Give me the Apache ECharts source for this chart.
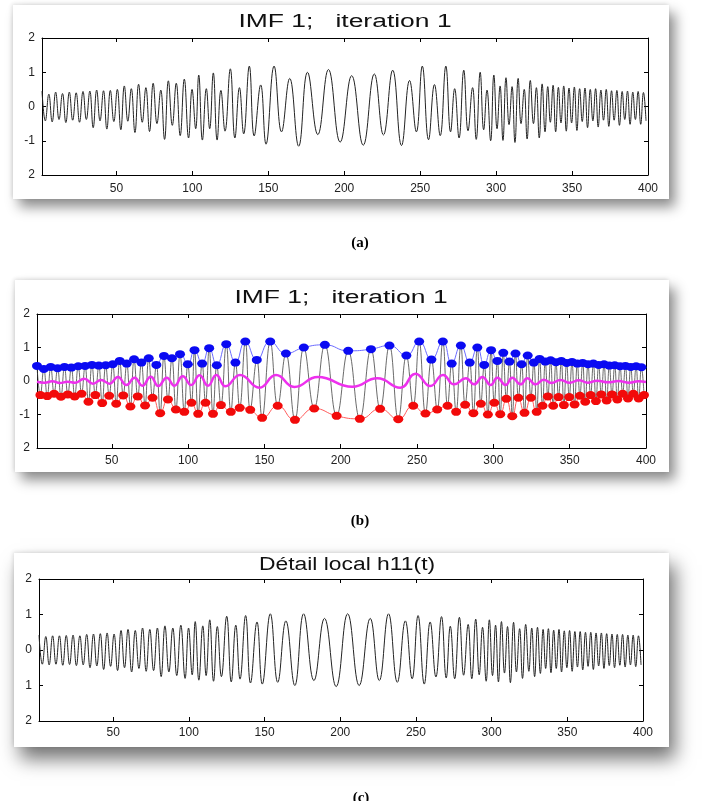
<!DOCTYPE html>
<html>
<head>
<meta charset="utf-8">
<script src="https://cdn.jsdelivr.net/npm/echarts@6.0.0/dist/echarts.min.js"></script>
<style>
  html, body { margin: 0; padding: 0; background: #fff; }
  #wrap { position: relative; width: 710px; height: 801px; overflow: hidden; }
  .card { position: absolute; background: #fff; box-shadow: 6px 8px 12px rgba(0,0,0,0.45), -1px -1px 4px rgba(0,0,0,0.12); }
  #chart { position: absolute; left: 0; top: 0; width: 710px; height: 801px; }
</style>
</head>
<body>
<div id="wrap">
  <div class="card" style="left:13px;top:5px;width:656px;height:194px"></div>
  <div class="card" style="left:15px;top:280px;width:654px;height:192px"></div>
  <div class="card" style="left:14px;top:553px;width:655px;height:194px;box-shadow:6px 12px 18px rgba(0,0,0,0.55), -1px -1px 4px rgba(0,0,0,0.12)"></div>
  <div id="chart"></div>
</div>
<script>
// tick labels
const xTickValues = [50, 100, 150, 200, 250, 300, 350, 400];
const yTickValues = [-2, -1, 0, 1, 2];
const yLabelsAB = ['2', '-1', '0', '1', '2'];
const yLabelsC = ['2', '1', '0', '1', '2'];

// local maxima of the signal (blue dots)
const maxT = [1, 5.5, 10, 14.5, 19, 23.5, 28, 32.5, 37, 41.5, 46,
  50.6, 55.2, 59.8, 64.6, 69.4, 74.2, 79.2, 84.2, 89.4, 94.7,
  99.8, 104.2, 109.2, 113.8, 118.8, 125, 131, 137.5, 145, 153.8, 164.1, 175.8, 189.6, 204.9, 219.8, 231.9, 243, 251.4, 259.4, 266.9,
  272.7, 278.7, 284.5, 289.5, 294, 298.5, 302.6, 306.5, 310.5, 314.5, 318.5, 322.5, 326.5, 330.3, 334, 337.5, 341, 344.5, 348, 351.5,
  355, 358.5, 362, 365.5, 369, 372.5, 376, 379.5, 383, 386.5, 390, 393.5, 397];
const maxV = [0.45, 0.36, 0.42, 0.38, 0.42, 0.40, 0.44, 0.45, 0.48, 0.46, 0.47,
  0.50, 0.60, 0.52, 0.65, 0.55, 0.68, 0.48, 0.75, 0.68, 0.80,
  0.50, 0.92, 0.52, 0.98, 0.47, 1.10, 0.55, 1.18, 0.63, 1.18, 0.82, 1.00, 1.08, 0.90, 0.95, 1.06, 0.76, 1.18, 0.64, 1.18,
  0.52, 1.06, 0.55, 1.00, 0.48, 0.92, 0.60, 0.84, 0.58, 0.82, 0.50, 0.76, 0.55, 0.66, 0.58, 0.62, 0.56, 0.60, 0.54, 0.57,
  0.52, 0.54, 0.50, 0.52, 0.48, 0.50, 0.46, 0.47, 0.44, 0.45, 0.42, 0.44, 0.41];

// local minima of the signal (red dots)
const minT = [3.2, 7.7, 12.2, 16.7, 21.2, 25.7, 30.2, 34.7, 39.2, 43.7, 48.3,
  52.9, 57.5, 62.2, 67, 71.8, 76.7, 81.7, 86.8, 92, 97.5,
  102.2, 106.6, 111.4, 116.3, 121.5, 128, 133.8, 140.7, 148.5, 158.7, 170, 182.6, 197.3, 212.5, 225.8, 237.7, 247.5, 255.5, 263.2, 270,
  275.6, 281.5, 286.9, 291.8, 296.4, 300.6, 304.5, 308.5, 312.4, 316.4, 320.4, 324.6, 328.4, 332.2, 335.7, 339.2, 342.7, 346.2, 349.7, 353.2,
  356.7, 360.2, 363.7, 367.2, 370.7, 374.2, 377.7, 381.2, 384.7, 388.2, 391.7, 395.2, 398.7];
const minV = [-0.42, -0.45, -0.38, -0.47, -0.40, -0.46, -0.38, -0.62, -0.42, -0.66, -0.44,
  -0.68, -0.43, -0.76, -0.46, -0.73, -0.50, -0.96, -0.55, -0.85, -0.92,
  -0.65, -0.98, -0.65, -0.98, -0.72, -0.92, -0.80, -0.86, -1.10, -0.74, -1.16, -0.82, -1.04, -1.13, -0.83, -1.14, -0.74, -0.97, -0.85, -0.74,
  -0.92, -0.71, -0.96, -0.68, -1.00, -0.65, -0.99, -0.53, -1.05, -0.50, -0.95, -0.50, -0.92, -0.74, -0.46, -0.74, -0.48, -0.72, -0.48, -0.70,
  -0.44, -0.62, -0.42, -0.60, -0.40, -0.58, -0.40, -0.55, -0.38, -0.52, -0.38, -0.52, -0.42];

// mean envelope (magenta), its turning points
const meanT = [1, 6, 11, 16, 21, 26, 32, 37.6, 43, 48.5, 54, 59.5, 65, 70, 75.5, 80.5, 86, 91, 96.5, 102, 107.5, 113, 118.5, 124.5,
  134, 146.7, 157.6, 169.6, 185, 207.6, 224, 239, 249, 258.7, 267, 274.3, 282, 287.4, 292.8, 298.3, 302.6, 308, 312.4, 317.8, 322.2, 327.6,
  333, 338, 344, 350, 356, 362, 368, 375, 382, 389, 395, 400];
const meanV = [-0.02, -0.05, -0.01, -0.06, -0.02, -0.05, 0.07, -0.08, 0.03, -0.08, 0.12, -0.12, 0.10, -0.14, 0.13, -0.15, 0.10, -0.14, 0.14, -0.12, 0.17, -0.14, 0.18, -0.16,
  0.18, -0.20, 0.18, -0.18, 0.12, -0.17, 0.08, -0.20, 0.22, -0.15, 0.18, -0.10, 0.08, -0.10, 0.12, -0.12, 0.10, -0.12, 0.10, -0.10, 0.08, -0.10,
  0.04, -0.06, 0.03, -0.05, 0.02, -0.05, 0.01, -0.04, 0.00, -0.05, -0.01, -0.03];

// local detail h11(t): values at the same extrema times
const hMaxV = [0.42, 0.38, 0.40, 0.40, 0.41, 0.42, 0.40, 0.44, 0.45, 0.46, 0.48,
  0.45, 0.55, 0.58, 0.55, 0.62, 0.58, 0.62, 0.68, 0.62, 0.70,
  0.62, 0.80, 0.68, 0.85, 0.66, 0.95, 0.70, 0.97, 0.79, 1.02, 0.82, 1.02, 0.89, 1.02, 0.89, 1.02, 0.82, 0.97, 0.79, 0.94,
  0.67, 0.92, 0.72, 0.87, 0.64, 0.85, 0.70, 0.80, 0.66, 0.78, 0.60, 0.72, 0.62, 0.64, 0.58, 0.60, 0.56, 0.58, 0.54, 0.55,
  0.52, 0.52, 0.50, 0.50, 0.48, 0.48, 0.46, 0.45, 0.44, 0.44, 0.42, 0.42, 0.40];
const hMinV = [-0.40, -0.42, -0.40, -0.43, -0.41, -0.44, -0.42, -0.50, -0.45, -0.55, -0.46,
  -0.58, -0.50, -0.62, -0.52, -0.60, -0.58, -0.75, -0.62, -0.72, -0.80,
  -0.70, -0.85, -0.72, -0.88, -0.75, -0.90, -0.82, -0.93, -0.96, -0.91, -1.00, -0.86, -1.03, -1.00, -0.86, -0.91, -0.81, -0.96, -0.76, -0.79,
  -0.81, -0.71, -0.81, -0.70, -0.88, -0.72, -0.90, -0.65, -0.92, -0.62, -0.80, -0.60, -0.75, -0.66, -0.52, -0.64, -0.52, -0.62, -0.50, -0.60,
  -0.48, -0.56, -0.46, -0.55, -0.45, -0.52, -0.44, -0.50, -0.43, -0.48, -0.42, -0.47, -0.42];

function pairs(ts, vs) {
  return ts.map(function (t, i) { return [t, vs[i]]; });
}
function mergeExtrema(tMax, vMax, tMin, vMin) {
  return pairs(tMax, vMax).concat(pairs(tMin, vMin)).sort(function (a, b) { return a[0] - b[0]; });
}

const signal = mergeExtrema(maxT, maxV, minT, minV);
const detail = mergeExtrema(maxT, hMaxV, minT, hMinV);

const FONT = 'Liberation Sans, Arial, sans-serif';
const grids = [
  { left: 42, top: 38, width: 606, height: 137 },
  { left: 37, top: 314, width: 609, height: 134 },
  { left: 39, top: 579, width: 604, height: 142 }
];
const labelMargins = [8, 7, 6];

const xAxes = [];
const yAxes = [];
grids.forEach(function (g, i) {
  const lineStyle = { color: '#000', width: 1 };
  xAxes.push({
    type: 'value', gridIndex: i, min: 1, max: 400, position: 'bottom',
    axisLine: { show: true, onZero: false, lineStyle: lineStyle },
    axisTick: { show: true, inside: true, length: 4, customValues: xTickValues, lineStyle: lineStyle },
    axisLabel: { show: true, customValues: xTickValues, margin: labelMargins[i], color: '#222', fontSize: 12, fontFamily: FONT },
    splitLine: { show: false }
  });
  xAxes.push({
    type: 'value', gridIndex: i, min: 1, max: 400, position: 'top',
    axisLine: { show: true, onZero: false, lineStyle: lineStyle },
    axisTick: { show: true, inside: true, length: 4, customValues: xTickValues, lineStyle: lineStyle },
    axisLabel: { show: false },
    splitLine: { show: false }
  });
  const labels = i === 2 ? yLabelsC : yLabelsAB;
  yAxes.push({
    type: 'value', gridIndex: i, min: -2, max: 2, position: 'left',
    axisLine: { show: true, onZero: false, lineStyle: lineStyle },
    axisTick: { show: true, inside: true, length: 4, customValues: yTickValues, lineStyle: lineStyle },
    axisLabel: {
      show: true, customValues: yTickValues, margin: 7, color: '#222', fontSize: 12, fontFamily: FONT,
      formatter: function (v) { return labels[yTickValues.indexOf(Math.round(v))]; }
    },
    splitLine: { show: false }
  });
  yAxes.push({
    type: 'value', gridIndex: i, min: -2, max: 2, position: 'right',
    axisLine: { show: true, onZero: false, lineStyle: lineStyle },
    axisTick: { show: true, inside: true, length: 4, customValues: yTickValues, lineStyle: lineStyle },
    axisLabel: { show: false },
    splitLine: { show: false }
  });
});

function titleText(text, x, y, sx) {
  return {
    type: 'text', x: x, y: y, scaleX: sx, z: 10,
    style: { text: text, font: '18px ' + FONT, fill: '#111', textAlign: 'center', textVerticalAlign: 'middle' }
  };
}
function captionText(text, x, y) {
  return {
    type: 'text', x: x, y: y, z: 10,
    style: { text: text, font: 'bold 15px Liberation Serif, Times New Roman, serif', fill: '#000', textAlign: 'center', textVerticalAlign: 'middle' }
  };
}

const chart = echarts.init(document.getElementById('chart'), null, { renderer: 'canvas' });
chart.setOption({
  animation: false,
  grid: grids,
  xAxis: xAxes,
  yAxis: yAxes,
  graphic: [
    titleText('IMF 1;   iteration 1', 345, 22, 1.47),
    titleText('IMF 1;   iteration 1', 341, 298, 1.47),
    titleText('Détail local h11(t)', 347, 565, 1.27),
    captionText('(a)', 360, 243),
    captionText('(b)', 360, 521),
    captionText('(c)', 361, 798)
  ],
  series: [
    {
      type: 'line', xAxisIndex: 0, yAxisIndex: 0, data: signal, smooth: 0.45,
      showSymbol: false, lineStyle: { color: '#222', width: 1 }
    },
    {
      type: 'line', xAxisIndex: 2, yAxisIndex: 2, data: signal, smooth: 0.45, z: 2,
      showSymbol: false, lineStyle: { color: '#444', width: 0.8 }
    },
    {
      type: 'line', xAxisIndex: 2, yAxisIndex: 2, data: pairs(maxT, maxV), smooth: 0.5, z: 4,
      symbol: 'circle', symbolSize: [10, 8], itemStyle: { color: '#0a0af2' },
      lineStyle: { color: '#6a6aff', width: 1 }
    },
    {
      type: 'line', xAxisIndex: 2, yAxisIndex: 2, data: pairs(minT, minV), smooth: 0.5, z: 4,
      symbol: 'circle', symbolSize: [10, 8], itemStyle: { color: '#f20a0a' },
      lineStyle: { color: '#ff5a5a', width: 1 }
    },
    {
      type: 'line', xAxisIndex: 2, yAxisIndex: 2, data: pairs(meanT, meanV), smooth: 0.5, z: 3,
      showSymbol: false, lineStyle: { color: '#ee30ee', width: 2.5 }
    },
    {
      type: 'line', xAxisIndex: 4, yAxisIndex: 4, data: detail, smooth: 0.45,
      showSymbol: false, lineStyle: { color: '#222', width: 1 }
    }
  ]
});
</script>
</body>
</html>
